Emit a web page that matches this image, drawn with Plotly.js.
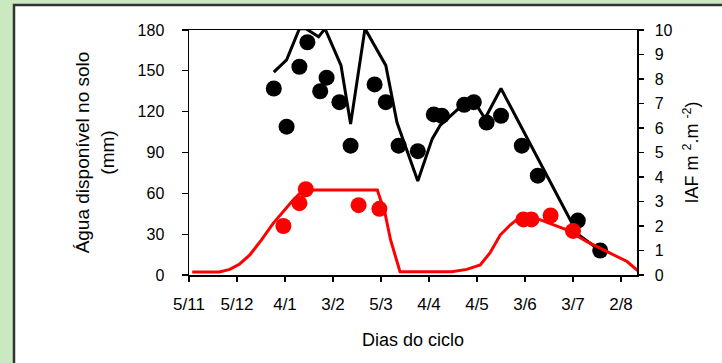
<!DOCTYPE html>
<html>
<head>
<meta charset="utf-8">
<script src="https://cdn.plot.ly/plotly-3.0.1.min.js"></script>
<style>
  html, body { margin: 0; padding: 0; background: #cbe9c1; }
  #chart { width: 722px; height: 363px; }
</style>
</head>
<body>
<div id="chart"></div>
<script>
// Days of the crop cycle (day 0 = 5/11) and the date labels every 30 days
const tickDays = [0, 30, 60, 90, 120, 150, 180, 210, 240, 270];
const tickLabels = ['5/11', '5/12', '4/1', '3/2', '5/3', '4/4', '4/5', '3/6', '3/7', '2/8'];

// Available soil water (mm): observed points
const waterObsDays = [53, 61, 69, 74, 82, 86, 94, 101, 116, 123, 131, 143, 153, 158, 172, 178, 186, 195, 208, 218, 243, 257];
const waterObs = [137, 109, 153, 171, 135, 145, 127, 95, 140, 127, 95, 91, 118, 117, 125, 127, 112, 117, 95, 73, 40, 18];

// Available soil water (mm): simulated
const waterSimDays = [53, 61, 69, 73, 81, 85, 95, 101, 110, 123, 130, 143, 152, 157, 172, 179, 185, 195, 243, 257];
const waterSim = [149, 158, 181, 181, 175, 181, 154, 111, 181, 154, 112, 69, 100, 110, 126, 126, 115, 137, 30, 18];

// Leaf area index (IAF): observed points
const laiObsDays = [59, 69, 73, 106, 119, 209, 214, 226, 240];
const laiObs = [2.0, 2.93, 3.5, 2.85, 2.7, 2.27, 2.27, 2.43, 1.8];

// Leaf area index (IAF): simulated
const laiSimDays = [2, 19, 25.5, 31.7, 38, 45.3, 52.6, 58.8, 65.1, 71.4, 117.7, 122.5, 126, 131.9,
  164.2, 173.6, 182, 188.2, 194.5, 200.7, 205.9, 214.3, 225.8, 236.2, 248.7, 261.2, 273.8, 280, 288];
const laiSim = [0.12, 0.12, 0.23, 0.45, 0.82, 1.43, 2.11, 2.58, 3.06, 3.47, 3.47, 2.52, 1.43, 0.13,
  0.13, 0.23, 0.41, 0.91, 1.63, 2.04, 2.31, 2.38, 2.11, 1.84, 1.36, 0.95, 0.55, 0.2, 0.1];

const FONT = 'Liberation Sans, Arial, sans-serif';

const traces = [
  { x: laiSimDays, y: laiSim, yaxis: 'y2', mode: 'lines',
    line: { color: '#ff0000', width: 3 } },
  { x: laiObsDays, y: laiObs, yaxis: 'y2', mode: 'markers',
    marker: { color: '#ff0000', size: 16 } },
  { x: waterSimDays, y: waterSim, mode: 'lines',
    line: { color: '#000000', width: 3 } },
  { x: waterObsDays, y: waterObs, mode: 'markers',
    marker: { color: '#000000', size: 16 } }
];

const layout = {
  width: 722, height: 363,
  margin: { l: 189, r: 85, t: 30, b: 88 },
  paper_bgcolor: '#cbe9c1',
  plot_bgcolor: '#ffffff',
  showlegend: false,
  font: { family: FONT, color: '#000000' },
  xaxis: {
    range: [0, 280], tickmode: 'array', tickvals: tickDays, ticktext: tickLabels,
    ticks: 'outside', ticklen: 5, tickwidth: 1.2, tickcolor: '#000',
    showline: true, linecolor: '#000', linewidth: 1.5, mirror: true,
    showgrid: false, zeroline: false,
    tickfont: { size: 17 }, ticklabelstandoff: 8,
    title: { text: 'Dias do ciclo', font: { size: 18 }, standoff: 20 }
  },
  yaxis: {
    range: [0, 180], tickmode: 'array', tickvals: [0, 30, 60, 90, 120, 150, 180],
    ticks: 'outside', ticklen: 6, tickwidth: 1.2, tickcolor: '#000',
    showline: true, linecolor: '#000', linewidth: 1.5,
    showgrid: false, zeroline: false,
    tickfont: { size: 16 }, ticklabelstandoff: 14,
    title: { text: 'Água disponível no solo<br>(mm)', font: { size: 19 }, standoff: 18 }
  },
  yaxis2: {
    range: [0, 10], overlaying: 'y', side: 'right', anchor: 'x',
    tickmode: 'array', tickvals: [0, 1, 2, 3, 4, 5, 6, 7, 8, 9, 10],
    ticks: 'outside', ticklen: 5, tickwidth: 1.2, tickcolor: '#000',
    showline: true, linecolor: '#000', linewidth: 1.5,
    showgrid: false, zeroline: false,
    tickfont: { size: 16 }, ticklabelstandoff: 8,
    title: { text: 'IAF m <sup>2</sup>.m <sup>-2</sup>)', font: { size: 18 }, standoff: 14 }
  },
  // same right-hand scale again, with its ticks pointing inwards, so the marks cross the axis line
  yaxis3: {
    range: [0, 10], overlaying: 'y', side: 'right', anchor: 'x',
    tickmode: 'array', tickvals: [0, 1, 2, 3, 4, 5, 6, 7, 8, 9, 10],
    ticks: 'inside', ticklen: 5, tickwidth: 1.2, tickcolor: '#000',
    showticklabels: false, showline: false, showgrid: false, zeroline: false
  },
  shapes: [
    // white panel with dark frame behind the chart
    { type: 'rect', xref: 'paper', yref: 'paper', layer: 'below',
      x0: (14 - 189) / 448, x1: (730 - 189) / 448,
      y0: (275 - 370) / 245, y1: (275 - 5) / 245,
      fillcolor: '#ffffff', line: { color: '#333333', width: 2.5 } }
  ]
};

Plotly.newPlot('chart', traces, layout, { staticPlot: true });
</script>
</body>
</html>
